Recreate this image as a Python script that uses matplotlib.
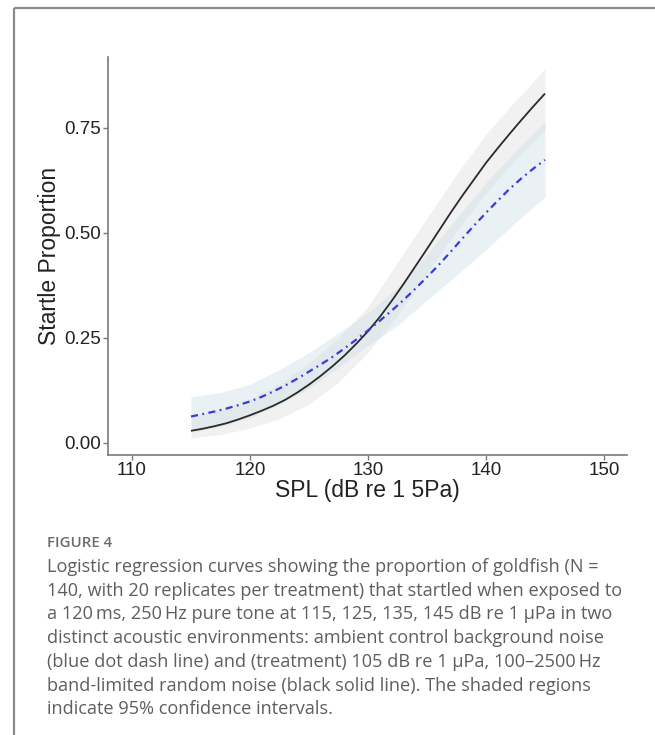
import matplotlib
matplotlib.use("Agg")
import matplotlib.pyplot as plt
from matplotlib.lines import Line2D

# ---- data ----
spl = [115, 116, 117, 118, 119, 120, 121, 122, 123, 124, 125, 126, 127, 128, 129, 130,
       131, 132, 133, 134, 135, 136, 137, 138, 139, 140, 141, 142, 143, 144, 145]
treatment = [0.029, 0.034, 0.040, 0.047, 0.056, 0.066, 0.077, 0.089, 0.103, 0.120, 0.139,
             0.160, 0.183, 0.208, 0.236, 0.266, 0.300, 0.338, 0.378, 0.420, 0.462, 0.505,
             0.548, 0.589, 0.628, 0.667, 0.702, 0.736, 0.769, 0.801, 0.832]
control = [0.063, 0.069, 0.075, 0.082, 0.090, 0.099, 0.110, 0.123, 0.137, 0.153, 0.170,
           0.187, 0.205, 0.225, 0.246, 0.268, 0.291, 0.315, 0.340, 0.367, 0.395, 0.424,
           0.455, 0.487, 0.518, 0.548, 0.577, 0.605, 0.630, 0.653, 0.674]

ci_x = [115, 117.5, 120, 122.5, 125, 127.5, 130, 132.5, 135, 137.5, 140, 142.5, 145]
treat_lo = [0.012, 0.020, 0.035, 0.058, 0.092, 0.145, 0.215, 0.305, 0.405, 0.505, 0.595, 0.675, 0.745]
treat_hi = [0.062, 0.080, 0.105, 0.140, 0.190, 0.250, 0.325, 0.430, 0.535, 0.640, 0.735, 0.815, 0.890]
ctrl_lo = [0.025, 0.040, 0.060, 0.092, 0.130, 0.180, 0.232, 0.280, 0.340, 0.400, 0.460, 0.525, 0.586]
ctrl_hi = [0.110, 0.120, 0.140, 0.175, 0.215, 0.262, 0.310, 0.370, 0.450, 0.535, 0.620, 0.695, 0.765]

xticks = [110, 120, 130, 140, 150]
yticks = [0.00, 0.25, 0.50, 0.75]
ytick_labels = ["0.00", "0.25", "0.50", "0.75"]

caption_title = "FIGURE 4"
caption_lines = [
    "Logistic regression curves showing the proportion of goldfish (N =",
    "140, with 20 replicates per treatment) that startled when exposed to",
    "a 120\u2009ms, 250\u2009Hz pure tone at 115, 125, 135, 145 dB re 1 \u03bcPa in two",
    "distinct acoustic environments: ambient control background noise",
    "(blue dot dash line) and (treatment) 105 dB re 1 \u03bcPa, 100\u20132500\u2009Hz",
    "band-limited random noise (black solid line). The shaded regions",
    "indicate 95% confidence intervals.",
]

W, H = 655, 735
fig = plt.figure(figsize=(W / 100, H / 100), dpi=100)
fig.patch.set_facecolor("white")

# panel border (left and top)
border_x = 14 / W
border_y = 1 - 7.5 / H
fig.add_artist(Line2D([border_x, border_x], [0, border_y], color="#8a8a8a", lw=1.6,
                      transform=fig.transFigure, solid_capstyle="butt"))
fig.add_artist(Line2D([border_x, 1], [border_y, border_y], color="#8a8a8a", lw=1.6,
                      transform=fig.transFigure, solid_capstyle="butt"))

# axes placement
ax_left, ax_right, ax_top, ax_bottom = 107.8, 627, 57, 455
ax = fig.add_axes([ax_left / W, 1 - ax_bottom / H, (ax_right - ax_left) / W, (ax_bottom - ax_top) / H])
ax.set_xlim(107.95, 151.95)
ax.set_ylim(-0.0286, 0.919)

ax.fill_between(ci_x, treat_lo, treat_hi, color="#dedede", alpha=0.42, lw=0)
ax.fill_between(ci_x, ctrl_lo, ctrl_hi, color="#cfe0ea", alpha=0.45, lw=0)
ax.plot(spl, treatment, color="#2a2a2a", lw=1.3, solid_capstyle="butt")
ax.plot(spl, control, color="#3a3ad6", lw=1.6, linestyle=(0, (3.2, 2.0, 0.8, 2.0)))

for s in ["top", "right"]:
    ax.spines[s].set_visible(False)
for s in ["left", "bottom"]:
    ax.spines[s].set_color("#7a7a7a")
    ax.spines[s].set_linewidth(1.2)

tick_font = dict(family=["Liberation Sans", "DejaVu Sans"], size=13.5, color="#222222")
ax.set_xticks(xticks)
ax.set_xticklabels([str(t) for t in xticks], **tick_font)
ax.set_yticks(yticks)
ax.set_yticklabels(ytick_labels, **tick_font)
ax.tick_params(axis="both", length=3.6, width=1.0, color="#7a7a7a", pad=1.5)

lab_font = dict(family=["Liberation Sans", "DejaVu Sans"], size=16.5, color="#222222")
ax.set_xlabel("SPL (dB re 1 5Pa)", **lab_font)
ax.xaxis.set_label_coords(0.5, (ax_bottom - 490) / (ax_bottom - ax_top))
ax.xaxis.label.set_va("center")
ax.set_ylabel("Startle Proportion", **lab_font)
ax.yaxis.set_label_coords((50 - ax_left) / (ax_right - ax_left), 0.5)
ax.yaxis.label.set_va("center")

# caption
cap_fam = ["Open Sans", "DejaVu Sans"]
cap_x = 46.7 / W
fig.text(cap_x, 1 - 547 / H, caption_title, family=cap_fam, size=10.8, color="#6b6b6b",
         fontweight="semibold", va="baseline", ha="left")
for i, line in enumerate(caption_lines):
    fig.text(cap_x, 1 - (571.7 + i * 23.8) / H, line, family=cap_fam, size=13.1,
             color="#5e5e5e", va="baseline", ha="left")

fig.savefig("out.png", dpi=100, facecolor="white")
